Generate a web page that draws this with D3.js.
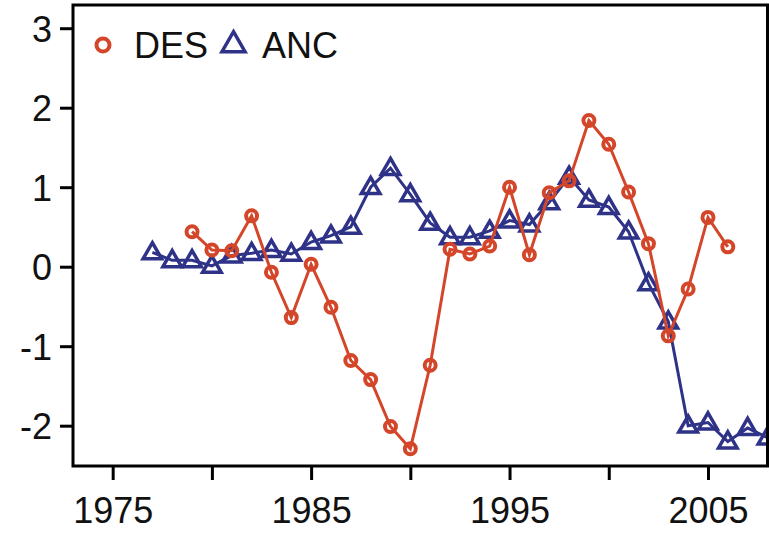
<!DOCTYPE html>
<html>
<head>
<meta charset="utf-8">
<script src="https://cdn.jsdelivr.net/npm/d3@7"></script>
<style>
  body { margin: 0; background: #fff; }
  text { font-family: "Liberation Sans", Arial, sans-serif; fill: #111; }
</style>
</head>
<body>
<svg width="769" height="533"></svg>
<script>
// DES: 1979-2006, ANC: 1977-2008
var desYears = d3.range(1979, 2007);
var desValues = [0.44, 0.21, 0.20, 0.64, -0.07, -0.64, 0.03, -0.51, -1.18, -1.42,
                 -2.01, -2.29, -1.24, 0.22, 0.16, 0.26, 1.00, 0.15, 0.93, 1.08,
                 1.84, 1.54, 0.94, 0.29, -0.87, -0.28, 0.62, 0.25];

var ancYears = d3.range(1977, 2009);
var ancValues = [0.18, 0.08, 0.08, 0.01, 0.14, 0.17, 0.21, 0.16, 0.31, 0.39,
                 0.50, 1.00, 1.24, 0.91, 0.55, 0.37, 0.37, 0.45, 0.58, 0.53,
                 0.81, 1.13, 0.84, 0.75, 0.44, -0.21, -0.69, -2.00, -1.96, -2.20,
                 -2.03, -2.15];

var xTicks = [1975, 1980, 1985, 1990, 1995, 2000, 2005];
var xLabels = [1975, 1985, 1995, 2005];
var yTicks = [-2, -1, 0, 1, 2, 3];

var seriesNames = ["DES", "ANC"];
var colors = ["#D4462A", "#2E3388"];

var svg = d3.select("svg"),
    width = +svg.attr("width"),
    height = +svg.attr("height");

// plot box (window.top is read-only, so no bare "top")
var box = {left: 73, right: 767.5, top: 5, bottom: 466};

var x = d3.scaleLinear().domain([1973, 2008]).range([box.left, box.right]);
var y = d3.scaleLinear().domain([-2.507, 3.292]).range([box.bottom, box.top]);

var des = desYears.map(function(d, i) { return {year: d, value: desValues[i]}; });
var anc = ancYears.map(function(d, i) { return {year: d, value: ancValues[i]}; });

svg.append("clipPath").attr("id", "plot")
  .append("rect")
    .attr("x", box.left).attr("y", box.top)
    .attr("width", box.right - box.left).attr("height", box.bottom - box.top);

var line = d3.line()
    .x(function(d) { return x(d.year); })
    .y(function(d) { return y(d.value); });

var plot = svg.append("g").attr("clip-path", "url(#plot)");

var triangle = d3.symbol().type(d3.symbolTriangle).size(150);

// ANC drawn first, DES on top
plot.append("path")
    .datum(anc)
    .attr("fill", "none")
    .attr("stroke", colors[1])
    .attr("stroke-width", 3)
    .attr("d", line);

plot.selectAll(".anc")
    .data(anc)
    .enter().append("path")
      .attr("class", "anc")
      .attr("transform", function(d) { return "translate(" + x(d.year) + "," + (y(d.value) + 1) + ")"; })
      .attr("d", triangle)
      .attr("fill", "none")
      .attr("stroke", colors[1])
      .attr("stroke-width", 3.5);

plot.append("path")
    .datum(des)
    .attr("fill", "none")
    .attr("stroke", colors[0])
    .attr("stroke-width", 3)
    .attr("d", line);

plot.selectAll(".des")
    .data(des)
    .enter().append("circle")
      .attr("class", "des")
      .attr("cx", function(d) { return x(d.year); })
      .attr("cy", function(d) { return y(d.value); })
      .attr("r", 5.5)
      .attr("fill", "none")
      .attr("stroke", colors[0])
      .attr("stroke-width", 4);

// frame
svg.append("rect")
    .attr("x", box.left).attr("y", box.top)
    .attr("width", box.right - box.left).attr("height", box.bottom - box.top)
    .attr("fill", "none")
    .attr("stroke", "#000")
    .attr("stroke-width", 3);

// axes
var xAxis = svg.append("g")
    .attr("transform", "translate(0," + box.bottom + ")")
    .call(d3.axisBottom(x).tickValues(xTicks).tickSize(14)
      .tickFormat(function(d) { return xLabels.indexOf(d) >= 0 ? d : ""; }));

// plain hyphen for negatives, like the original
var yAxis = svg.append("g")
    .attr("transform", "translate(" + box.left + ",0)")
    .call(d3.axisLeft(y).tickValues(yTicks).tickSize(13).tickPadding(8)
      .tickFormat(function(d) { return String(d); }));

[xAxis, yAxis].forEach(function(a) {
  a.select(".domain").remove();
  a.selectAll(".tick line").attr("stroke", "#000").attr("stroke-width", 3);
  a.selectAll(".tick text")
      .style("font-family", "'Liberation Sans', Arial, sans-serif")
      .style("font-size", "36px")
      .attr("fill", "#111");
});
xAxis.selectAll(".tick text").attr("y", 31).attr("dy", "0.71em");
yAxis.selectAll(".tick text").attr("dy", "0.36em");

// legend
var legend = svg.append("g");
legend.append("circle")
    .attr("cx", 103).attr("cy", 45).attr("r", 6.5)
    .attr("fill", "none")
    .attr("stroke", colors[0])
    .attr("stroke-width", 4);
legend.append("text")
    .attr("x", 134).attr("y", 58)
    .style("font-size", "36px")
    .text(seriesNames[0]);
legend.append("path")
    .attr("transform", "translate(233.5,45)")
    .attr("d", d3.symbol().type(d3.symbolTriangle).size(230))
    .attr("fill", "none")
    .attr("stroke", colors[1])
    .attr("stroke-width", 3.5);
legend.append("text")
    .attr("x", 262).attr("y", 58)
    .style("font-size", "36px")
    .text(seriesNames[1]);
</script>
</body>
</html>
